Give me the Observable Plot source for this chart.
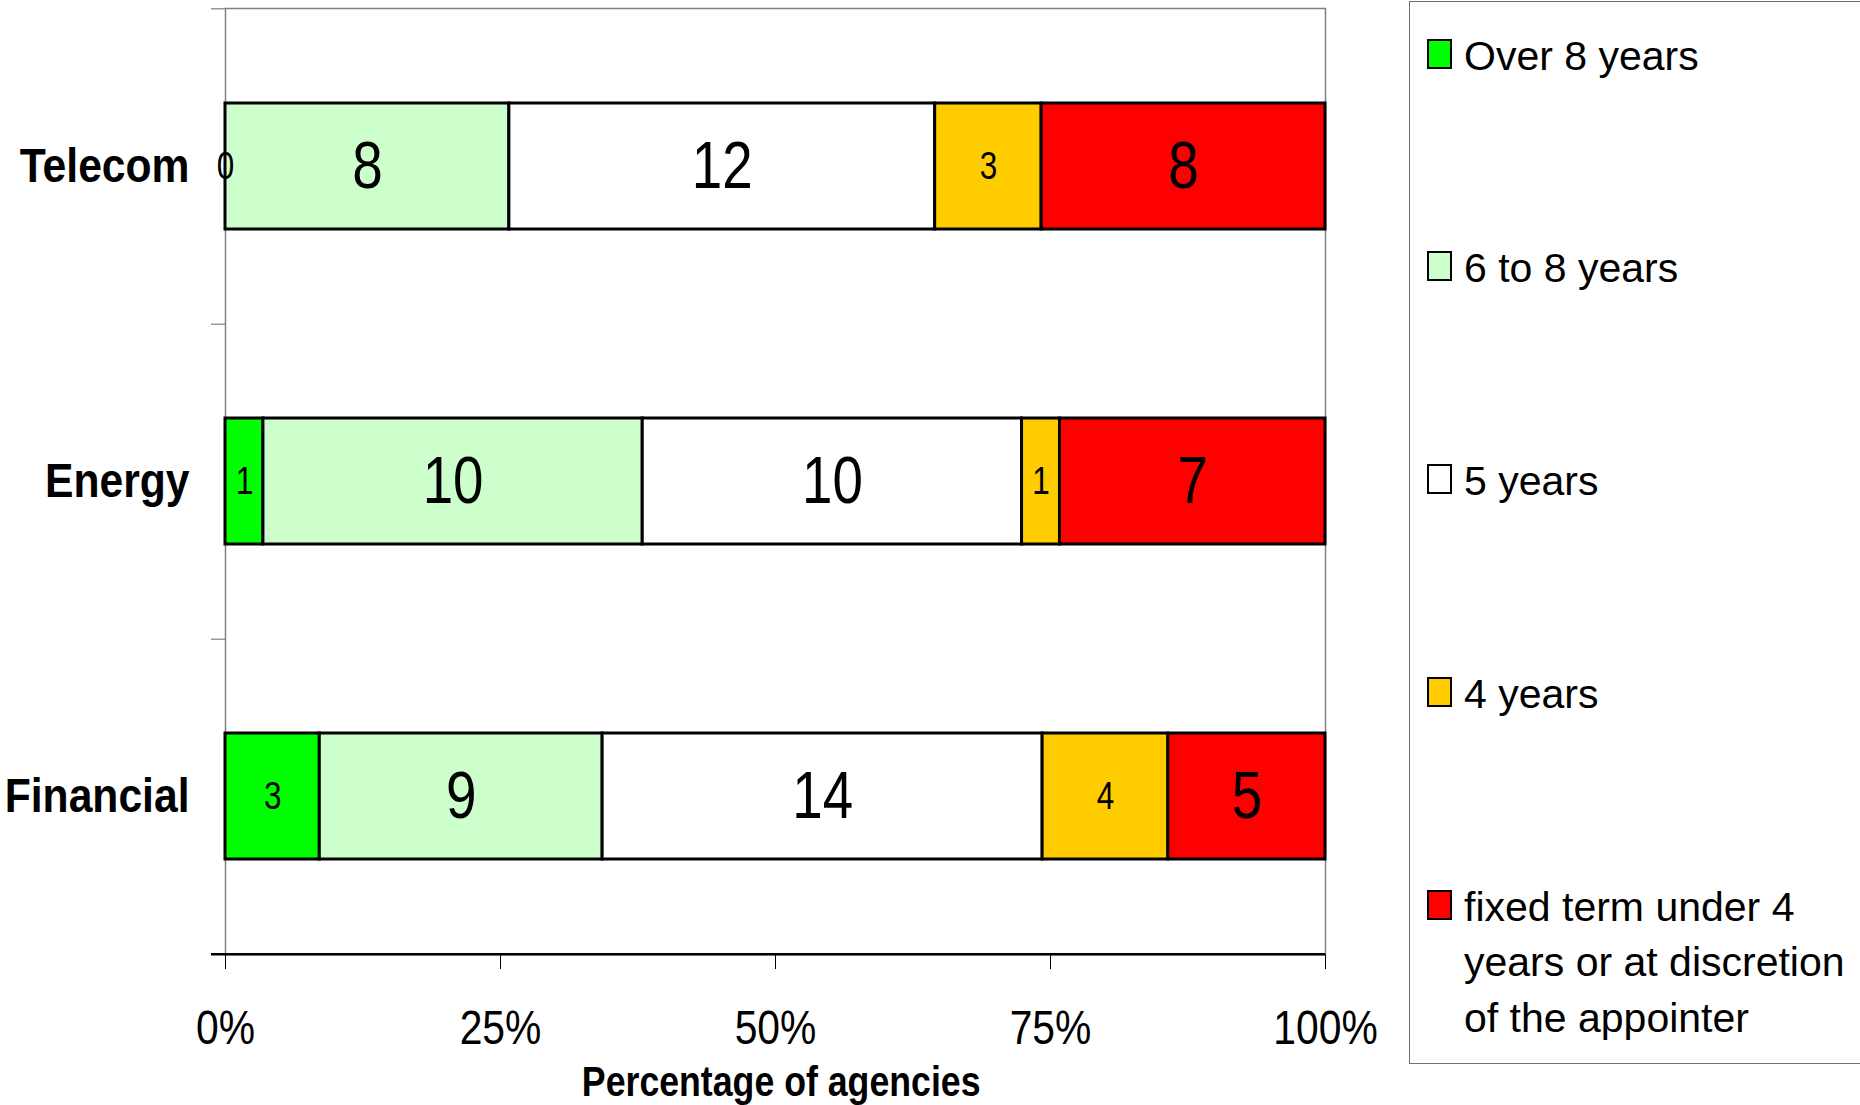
<!DOCTYPE html>
<html>
<head>
<meta charset="utf-8">
<script src="https://cdn.jsdelivr.net/npm/d3@7"></script>
<script src="https://cdn.jsdelivr.net/npm/@observablehq/plot@0.6"></script>
<style>
  html, body { margin: 0; padding: 0; background: #fff; overflow: hidden; }
  #wrap { position: relative; width: 1860px; height: 1105px; }
  #chart { position: absolute; left: 0; top: 0; }
  #xtitle { position: absolute; left: 0; top: 1058px; width: 1562px; height: 47px; line-height: 47px;
    text-align: center; font-family: 'Liberation Sans', Arial, sans-serif; font-weight: bold; font-size: 43px; color: #000; }
  #xtitle span { display: inline-block; transform: scaleX(0.83); transform-origin: center; }
  #legend { position: absolute; left: 1409px; top: 1px; width: 520px; height: 1063px; box-sizing: border-box;
    border: 1.5px solid #707070; background: #fff; }
  .item { position: absolute; left: 17px; }
  .sw { position: absolute; left: 0; width: 25px; height: 30px; box-sizing: border-box; border: 2.5px solid #000; }
  .lab { position: absolute; left: 37px; width: 400px; font-family: 'Liberation Sans', Arial, sans-serif; font-size: 41px; line-height: 55.5px; color: #000; }
</style>
</head>
<body>
<div id="wrap">
  <div id="chart"></div>
  <div id="xtitle"><span></span></div>
  <div id="legend"></div>
</div>
<script>
const sectors = ["Telecom", "Energy", "Financial"];
const categories = ["Over 8 years", "6 to 8 years", "5 years", "4 years", "fixed term under 4 years or at discretion of the appointer"];
const colors = ["#00FF00", "#CCFFCC", "#FFFFFF", "#FFCC00", "#FF0000"];
const over8 = [0, 1, 3];
const six8 = [8, 10, 9];
const five = [12, 10, 14];
const four = [3, 1, 4];
const fixedTerm = [8, 7, 5];
const xTicks = [0, 0.25, 0.5, 0.75, 1];
const xTitle = "Percentage of agencies";
const smallLabelCats = ["Over 8 years", "4 years"];

const series = [over8, six8, five, four, fixedTerm];
const data = [];
sectors.forEach((s, i) => {
  categories.forEach((c, j) => data.push({sector: s, cat: c, value: series[j][i]}));
});

const W = 1409, H = 1058, mt = 8, mb = 104, ml = 225, mr = 84;
const step = (H - mt - mb) / sectors.length;

const stackOpts = {x: "value", y: "sector", z: "cat", offset: "normalize", order: null};

const plot = Plot.plot({
  width: W, height: H,
  marginTop: mt, marginBottom: mb, marginLeft: ml, marginRight: mr,
  style: {fontFamily: "'Liberation Sans', Arial, sans-serif", background: "white", color: "black"},
  x: {domain: [0, 1], axis: null},
  y: {domain: sectors, paddingInner: 0.6, paddingOuter: 0.3, axis: null},
  color: {domain: categories, range: colors},
  marks: [
    Plot.frame({stroke: "#808080", strokeWidth: 1.5}),
    Plot.barX(data, Plot.stackX({...stackOpts, fill: "cat", stroke: "black", strokeWidth: 3})),
    Plot.text(data, Plot.stackX({...stackOpts, text: "value", fill: "black", className: "vals",
      fontSize: d => smallLabelCats.includes(d.cat) ? 38 : 66})),
    Plot.axisY({anchor: "left", tickSize: 0, tickPadding: 36, fontSize: 49, fontWeight: "bold", label: null, className: "ylab"}),
    Plot.axisY(sectors, {anchor: "left", tickSize: 14, tickFormat: () => "", dy: step / 2, stroke: "#666", label: null}),
    Plot.axisY([sectors[0]], {anchor: "left", tickSize: 14, tickFormat: () => "", dy: -step / 2, stroke: "#666", label: null}),
    Plot.tickY([sectors[sectors.length - 1]], {y: d => d, dy: step / 2, stroke: "black", strokeWidth: 2.5, insetLeft: -14}),
    Plot.axisX({anchor: "bottom", ticks: xTicks, tickFormat: d3.format(".0%"), tickSize: 15, tickPadding: 40, fontSize: 48, label: null, stroke: "black", className: "xlab"})
  ]
});
document.getElementById("chart").appendChild(plot);
// condensed look of the original typeface
function condense(sel, k) {
  plot.querySelectorAll(sel).forEach(t => {
    const L = t.getComputedTextLength();
    if (L > 0) {
      t.setAttribute("textLength", (L * k).toFixed(1));
      t.setAttribute("lengthAdjust", "spacingAndGlyphs");
    }
  });
}
condense(".ylab text", 0.87);
condense(".xlab text", 0.85);
condense(".vals text", 0.83);
document.querySelector("#xtitle span").textContent = xTitle;

const legend = document.getElementById("legend");
categories.forEach((c, i) => {
  const center = 54 + i * 212.75 - 2.5;
  const item = document.createElement("div");
  item.className = "item";
  item.style.top = "0px";
  const sw = document.createElement("div");
  sw.className = "sw";
  sw.style.top = (center - 15) + "px";
  sw.style.background = colors[i];
  const lab = document.createElement("div");
  lab.className = "lab";
  lab.style.top = (center - 25) + "px";
  lab.textContent = c;
  item.appendChild(sw);
  item.appendChild(lab);
  legend.appendChild(item);
});
</script>
</body>
</html>
